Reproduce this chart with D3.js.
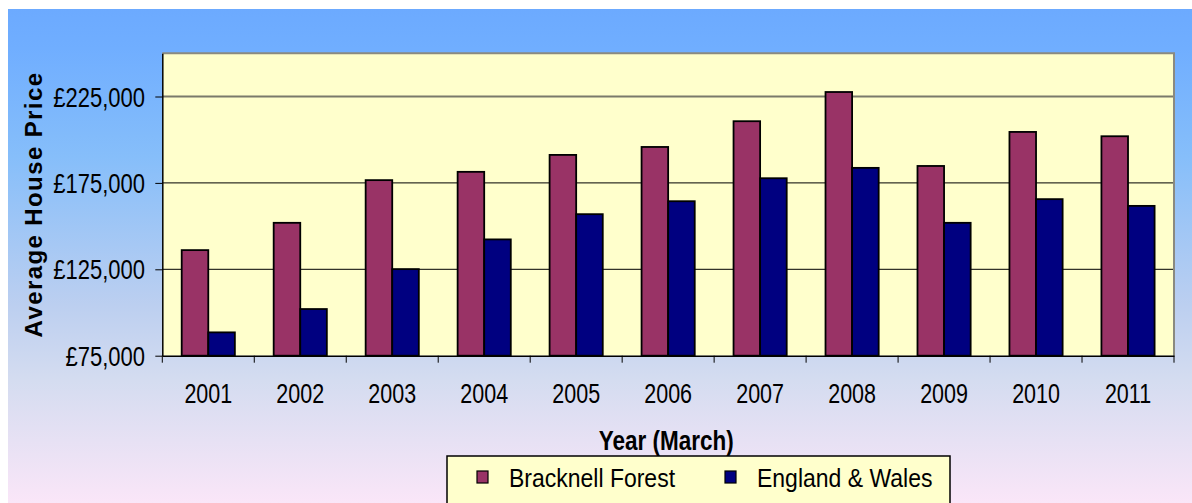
<!DOCTYPE html>
<html>
<head>
<meta charset="utf-8">
<script src="https://cdn.jsdelivr.net/npm/d3@7"></script>
<style>
  body { margin: 0; background: #fff; }
  text { font-family: Arial, "Liberation Sans", sans-serif; fill: #000; }
</style>
</head>
<body>
<div id="chart"></div>
<script>
// values
var years = ["2001", "2002", "2003", "2004", "2005", "2006", "2007", "2008", "2009", "2010", "2011"];
var bracknell = [136100, 151900, 176600, 181400, 191200, 195800, 210700, 227600, 184800, 204500, 202000];
var englandWales = [88500, 102000, 125100, 142300, 156900, 164400, 177700, 183700, 151900, 165600, 161700];
var seriesNames = ["Bracknell Forest", "England & Wales"];
var yTicks = [75000, 125000, 175000, 225000];

var svgWidth = 1192;
var svgHeight = 503;

// plot area box
var plot = { left: 162.3, right: 1174, top: 53.3, bottom: 355.7 };

var colors = { "Bracknell Forest": "#993366", "England & Wales": "#000080" };

var svg = d3.select("#chart").append("svg")
    .attr("width", svgWidth).attr("height", svgHeight);

// background gradient
var grad = svg.append("defs").append("linearGradient")
    .attr("id", "bg").attr("x1", 0).attr("y1", 0).attr("x2", 0).attr("y2", 1);
[["0%", "#6caaff"], ["8%", "#70aeff"], ["30%", "#86befa"], ["60%", "#bccff0"],
 ["75%", "#d4dcf0"], ["100%", "#fae6f8"]].forEach(function(s) {
    grad.append("stop").attr("offset", s[0]).attr("stop-color", s[1]);
});

svg.append("rect").attr("x", 8).attr("y", 9)
    .attr("width", svgWidth - 8).attr("height", svgHeight - 9)
    .attr("fill", "url(#bg)");

var data = years.map(function(yr, i) {
    return { year: yr, values: [
        { name: seriesNames[0], value: bracknell[i] },
        { name: seriesNames[1], value: englandWales[i] }
    ]};
});

var x0 = d3.scaleBand().domain(years).range([plot.left, plot.right]).padding(0);
var x1 = d3.scaleBand().domain(seriesNames).range([0, x0.bandwidth()])
    .paddingInner(0).paddingOuter(0.73);
var y = d3.scaleLinear().domain([75000, 250000]).range([plot.bottom, plot.top]);

// plot background
svg.append("rect")
    .attr("x", plot.left).attr("y", plot.top)
    .attr("width", plot.right - plot.left).attr("height", plot.bottom - plot.top)
    .attr("fill", "#ffffcc");

// gridlines
svg.append("g").selectAll("line")
    .data(yTicks.slice(1)).enter().append("line")
    .attr("x1", plot.left).attr("x2", plot.right)
    .attr("y1", d => y(d)).attr("y2", d => y(d))
    .attr("stroke", d => d === 225000 ? "#7a7a6a" : "#000")
    .attr("stroke-width", d => d === 225000 ? 2 : 1);

// top / right border
svg.append("path")
    .attr("d", `M${plot.left},${plot.top}H${plot.right}V${plot.bottom}`)
    .attr("fill", "none").attr("stroke", "#8a8a80").attr("stroke-width", 2);

// bars
var groups = svg.append("g").selectAll("g")
    .data(data).enter().append("g")
    .attr("transform", d => `translate(${x0(d.year)},0)`);

groups.selectAll("rect")
    .data(d => d.values).enter().append("rect")
    .attr("x", d => x1(d.name))
    .attr("y", d => y(d.value))
    .attr("width", x1.bandwidth())
    .attr("height", d => plot.bottom - y(d.value))
    .attr("fill", d => colors[d.name])
    .attr("stroke", "#000").attr("stroke-width", 1.8);

// y axis
var leftAxis = d3.axisLeft(y).tickValues(yTicks).tickSize(7).tickSizeOuter(0)
    .tickFormat(d => "£" + d3.format(",")(d));
var yAxis = svg.append("g").attr("transform", `translate(${plot.left},0)`).call(leftAxis);
yAxis.select(".domain").attr("stroke", "#000").attr("stroke-width", 1.5);
yAxis.selectAll(".tick line").attr("stroke", "#000");
yAxis.selectAll(".tick text").remove();

svg.append("g").selectAll("text")
    .data(yTicks).enter().append("text")
    .attr("transform", d => `translate(145,${y(d) + 10}) scale(1,1.25)`)
    .attr("text-anchor", "end")
    .attr("font-size", "22px")
    .text(d => "£" + d3.format(",")(d));

// x axis with ticks at category boundaries
var bottomAxis = d3.axisBottom(x0).tickSize(0).tickFormat("");
var xAxis = svg.append("g").attr("transform", `translate(0,${plot.bottom})`).call(bottomAxis);
xAxis.select(".domain").attr("stroke", "#000").attr("stroke-width", 1.5);

svg.append("g").selectAll("line")
    .data(years.concat(["end"])).enter().append("line")
    .attr("x1", d => d === "end" ? plot.right : x0(d))
    .attr("x2", d => d === "end" ? plot.right : x0(d))
    .attr("y1", plot.bottom).attr("y2", plot.bottom + 7)
    .attr("stroke", "#000");

svg.append("g").selectAll("text")
    .data(years).enter().append("text")
    .attr("transform", d => `translate(${x0(d) + x0.bandwidth() / 2},403) scale(1,1.25)`)
    .attr("text-anchor", "middle")
    .attr("font-size", "21.5px")
    .text(d => d);

// axis titles
svg.append("text")
    .attr("transform", `translate(${(plot.left + plot.right) / 2 - 2},450) scale(1,1.2)`)
    .attr("text-anchor", "middle")
    .attr("font-size", "22.5px").attr("font-weight", "bold")
    .text("Year (March)");

svg.append("text")
    .attr("transform", "translate(42,204.5) rotate(-90)")
    .attr("text-anchor", "middle")
    .attr("font-size", "24px").attr("font-weight", "bold")
    .attr("letter-spacing", "1.4px")
    .text("Average House Price");

// legend
var legend = svg.append("g");
legend.append("rect")
    .attr("x", 447).attr("y", 456)
    .attr("width", 503).attr("height", 60)
    .attr("fill", "#ffffcc").attr("stroke", "#000").attr("stroke-width", 1.5);

var legendX = [477, 725];
var items = legend.selectAll("g.item")
    .data(seriesNames).enter().append("g")
    .attr("class", "item")
    .attr("transform", (d, i) => `translate(${legendX[i]},0)`);

items.append("rect")
    .attr("x", 0).attr("y", 471)
    .attr("width", 11).attr("height", 12)
    .attr("fill", d => colors[d])
    .attr("stroke", "#000").attr("stroke-width", 1.2);

items.append("text")
    .attr("transform", "translate(32,487) scale(1,1.1)")
    .attr("font-size", "23px")
    .text(d => d);
</script>
</body>
</html>
